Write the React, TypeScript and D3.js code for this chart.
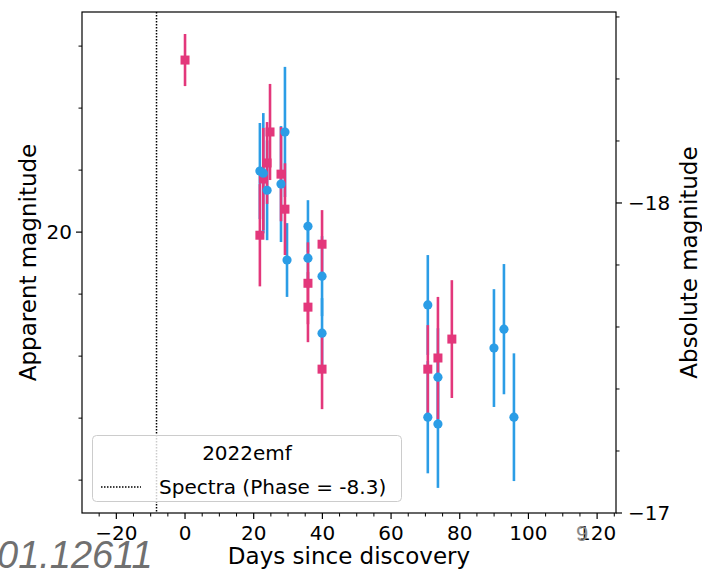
import React from 'react';
import * as d3 from 'd3';

// ---- data ----
const pinkDays = [0, 21.8, 22.8, 23.9, 24.75, 27.95, 29.1, 35.8, 35.8, 39.9, 39.9, 70.7, 73.65, 77.7];
const pinkMag = [19.445, 20.01, 19.829, 19.777, 19.677, 19.813, 19.926, 20.165, 20.242, 20.039, 20.442, 20.442, 20.406, 20.345];
const pinkErr = [0.084, 0.165, 0.165, 0.132, 0.155, 0.152, 0.148, 0.132, 0.113, 0.11, 0.129, 0.142, 0.197, 0.19];

const blueDays = [21.8, 22.8, 23.9, 27.95, 29.1, 29.7, 35.8, 35.8, 39.9, 39.9, 70.7, 70.7, 73.65, 73.65, 89.96, 92.87, 95.78];
const blueMag = [19.803, 19.81, 19.865, 19.845, 19.677, 20.09, 19.981, 20.084, 20.142, 20.326, 20.235, 20.597, 20.468, 20.619, 20.374, 20.313, 20.597];
const blueErr = [0.155, 0.194, 0.161, 0.187, 0.21, 0.119, 0.084, 0.097, 0.129, 0.113, 0.161, 0.181, 0.158, 0.206, 0.19, 0.21, 0.206];

const spectraPhase = -8.3;
const distanceModulus = 37.906;

const xMajorTicks = [-20, 0, 20, 40, 60, 80, 100, 120];
const xMinorTicks = [-25, -15, -10, -5, 5, 10, 15, 25, 30, 35, 45, 50, 55, 65, 70, 75, 85, 90, 95, 105, 110, 115, 125];
const yLeftMajor = [20];
const yLeftMinor = [19.4, 19.6, 19.8, 20.2, 20.4, 20.6, 20.8];
const yRightMajor = [-18, -17];
const yRightMinor = [-18.6, -18.4, -18.2, -17.8, -17.6, -17.4, -17.2];

const legendTitle = '2022emf';
const legendLabel = 'Spectra (Phase = -8.3)';
const xLabel = 'Days since discovery';
const yLabel = 'Apparent magnitude';
const y2Label = 'Absolute magnitude';

const PINK = '#e3377b';
const BLUE = '#2b9de6';
const FONT = 'DejaVu Sans';

const fmt = (v: number) => (v < 0 ? '\u2212' + Math.abs(v) : String(v));

export default function App() {
  const W = 702, H = 572;
  const L = 82, R = 616, T = 12, B = 513;
  const appDomain = [19.29, 20.906];
  const x = d3.scaleLinear().domain([-30, 125.5]).range([L, R]);
  const y = d3.scaleLinear().domain(appDomain).range([T, B]);
  const yAbs = d3.scaleLinear().domain([appDomain[0] - distanceModulus, appDomain[1] - distanceModulus]).range([T, B]);

  const pink = pinkDays.map((d, i) => ({ d, m: pinkMag[i], e: pinkErr[i] }));
  const blue = blueDays.map((d, i) => ({ d, m: blueMag[i], e: blueErr[i] }));
  const sq = 9;

  return (
    <svg width={W} height={H} style={{ position: 'absolute', left: 0, top: 0, background: '#fff' }} fontFamily={FONT}>
      <rect x={0} y={0} width={W} height={H} fill="#fff" />
      {/* spectra line */}
      <line x1={x(spectraPhase)} x2={x(spectraPhase)} y1={T} y2={B} stroke="#000" strokeWidth={1.5} strokeDasharray="1.5,1.5" />
      {/* error bars */}
      {blue.map((p, i) => (
        <line key={'be' + i} x1={x(p.d)} x2={x(p.d)} y1={y(p.m - p.e)} y2={y(p.m + p.e)} stroke={BLUE} strokeWidth={2.6} />
      ))}
      {pink.map((p, i) => (
        <line key={'pe' + i} x1={x(p.d)} x2={x(p.d)} y1={y(p.m - p.e)} y2={y(p.m + p.e)} stroke={PINK} strokeWidth={2.6} />
      ))}
      {pink.map((p, i) => (
        <rect key={'pm' + i} x={x(p.d) - sq / 2} y={y(p.m) - sq / 2} width={sq} height={sq} fill={PINK} />
      ))}
      {blue.map((p, i) => (
        <circle key={'bm' + i} cx={x(p.d)} cy={y(p.m)} r={4.6} fill={BLUE} />
      ))}

      {/* legend */}
      <rect x={92.5} y={435.5} width={309} height={66} rx={4} fill="#fff" fillOpacity={0.8} stroke="#cccccc" strokeWidth={1} />
      <text x={247} y={460} fontSize={20} textAnchor="middle" fill="#000">{legendTitle}</text>
      <line x1={101} x2={141} y1={487} y2={487} stroke="#000" strokeWidth={1.5} strokeDasharray="1.5,1.5" />
      <text x={159} y={494} fontSize={20} fill="#000">{legendLabel}</text>

      {/* frame */}
      <rect x={L} y={T} width={R - L} height={B - T} fill="none" stroke="#000" strokeWidth={1.2} />

      {/* x ticks */}
      {xMajorTicks.map((t) => (
        <g key={'xt' + t}>
          <line x1={x(t)} x2={x(t)} y1={B} y2={B + 6} stroke="#000" strokeWidth={1.2} />
          <text x={x(t)} y={540} fontSize={20} textAnchor="middle" fill="#000">{fmt(t)}</text>
        </g>
      ))}
      {xMinorTicks.map((t) => (
        <line key={'xm' + t} x1={x(t)} x2={x(t)} y1={B} y2={B + 3.5} stroke="#000" strokeWidth={1} />
      ))}

      {/* left y ticks */}
      {yLeftMajor.map((t) => (
        <g key={'yl' + t}>
          <line x1={L - 6} x2={L} y1={y(t)} y2={y(t)} stroke="#000" strokeWidth={1.2} />
          <text x={L - 10} y={y(t) + 7} fontSize={20} textAnchor="end" fill="#000">{fmt(t)}</text>
        </g>
      ))}
      {yLeftMinor.map((t) => (
        <line key={'ylm' + t} x1={L - 3.5} x2={L} y1={y(t)} y2={y(t)} stroke="#000" strokeWidth={1} />
      ))}

      {/* right y ticks */}
      {yRightMajor.map((t) => (
        <g key={'yr' + t}>
          <line x1={R} x2={R + 6} y1={yAbs(t)} y2={yAbs(t)} stroke="#000" strokeWidth={1.2} />
          <text x={R + 12} y={yAbs(t) + 7} fontSize={20} textAnchor="start" fill="#000">{fmt(t)}</text>
        </g>
      ))}
      {yRightMinor.map((t) => (
        <line key={'yrm' + t} x1={R} x2={R + 3.5} y1={yAbs(t)} y2={yAbs(t)} stroke="#000" strokeWidth={1} />
      ))}

      {/* axis labels */}
      <text x={(L + R) / 2} y={564} fontSize={23} textAnchor="middle" fill="#000">{xLabel}</text>
      <text transform={`translate(36,${(T + B) / 2}) rotate(-90)`} fontSize={23} textAnchor="middle" fill="#000">{yLabel}</text>
      <text transform={`translate(697,${(T + B) / 2}) rotate(-90)`} fontSize={23} textAnchor="middle" fill="#000">{y2Label}</text>

      {/* stamp fragments */}
      <text x={-3} y={568} fontSize={38} fontStyle="italic" fontFamily="Liberation Sans" fill="#707070">01.12611</text>
      <text x={576} y={541} fontSize={22} fontFamily="Liberation Sans" fill="#8a8a8a">9</text>
    </svg>
  );
}
